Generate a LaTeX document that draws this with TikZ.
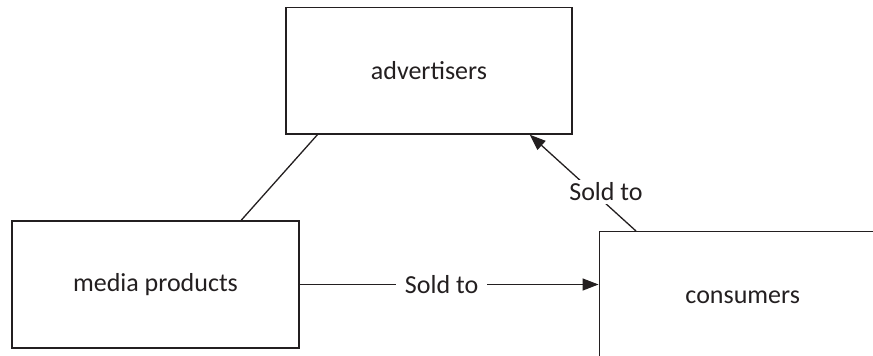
\documentclass[tikz,border=0pt]{standalone}
\usepackage{fontspec}
\setmainfont{Carlito}
\usetikzlibrary{arrows.meta,calc}
\definecolor{ink}{HTML}{231F20}
\begin{document}
\begin{tikzpicture}[x=1pt,y=-1pt,
  every node/.style={text=ink, font=\fontsize{26}{31}\selectfont},
  box/.style={draw=ink, line width=1.3pt, inner sep=0pt},
  conn/.style={draw=ink, line width=1.3pt},
  tip/.style={-{Triangle[length=16pt,width=12pt]}},
  lbl/.style={fill=white, inner sep=#1},
  lbl/.default=3pt]
\path[use as bounding box] (0,0) rectangle (873,356);
\clip (0,0) rectangle (873,356);
\node[box, minimum width=286pt, minimum height=126.5pt] (adv) at (428.9,70.8) {advertisers};
\node[box, minimum width=287pt, minimum height=127pt] (media) at (155.5,284.5) {media products};
\node[box, minimum width=287pt, minimum height=132pt] (cons) at (742.7,297.7) {consumers};
% connector advertisers -- media products
\draw[conn] ($(adv.south west)!0.112!(adv.south east)$) -- ($(media.north west)!0.797!(media.north east)$);
% media products -> consumers
\draw[conn, tip] (media.east) -- (media.east -| cons.west)
  node[lbl=9pt, pos=0.475] (sold1) {Sold to};
% consumers -> advertisers
\draw[conn, tip] ($(cons.north west)!0.130!(cons.north east)$) -- ($(adv.south west)!0.851!(adv.south east)$);
\node[lbl=3pt] (sold2) at (606,192) {Sold to};
\end{tikzpicture}
\end{document}
